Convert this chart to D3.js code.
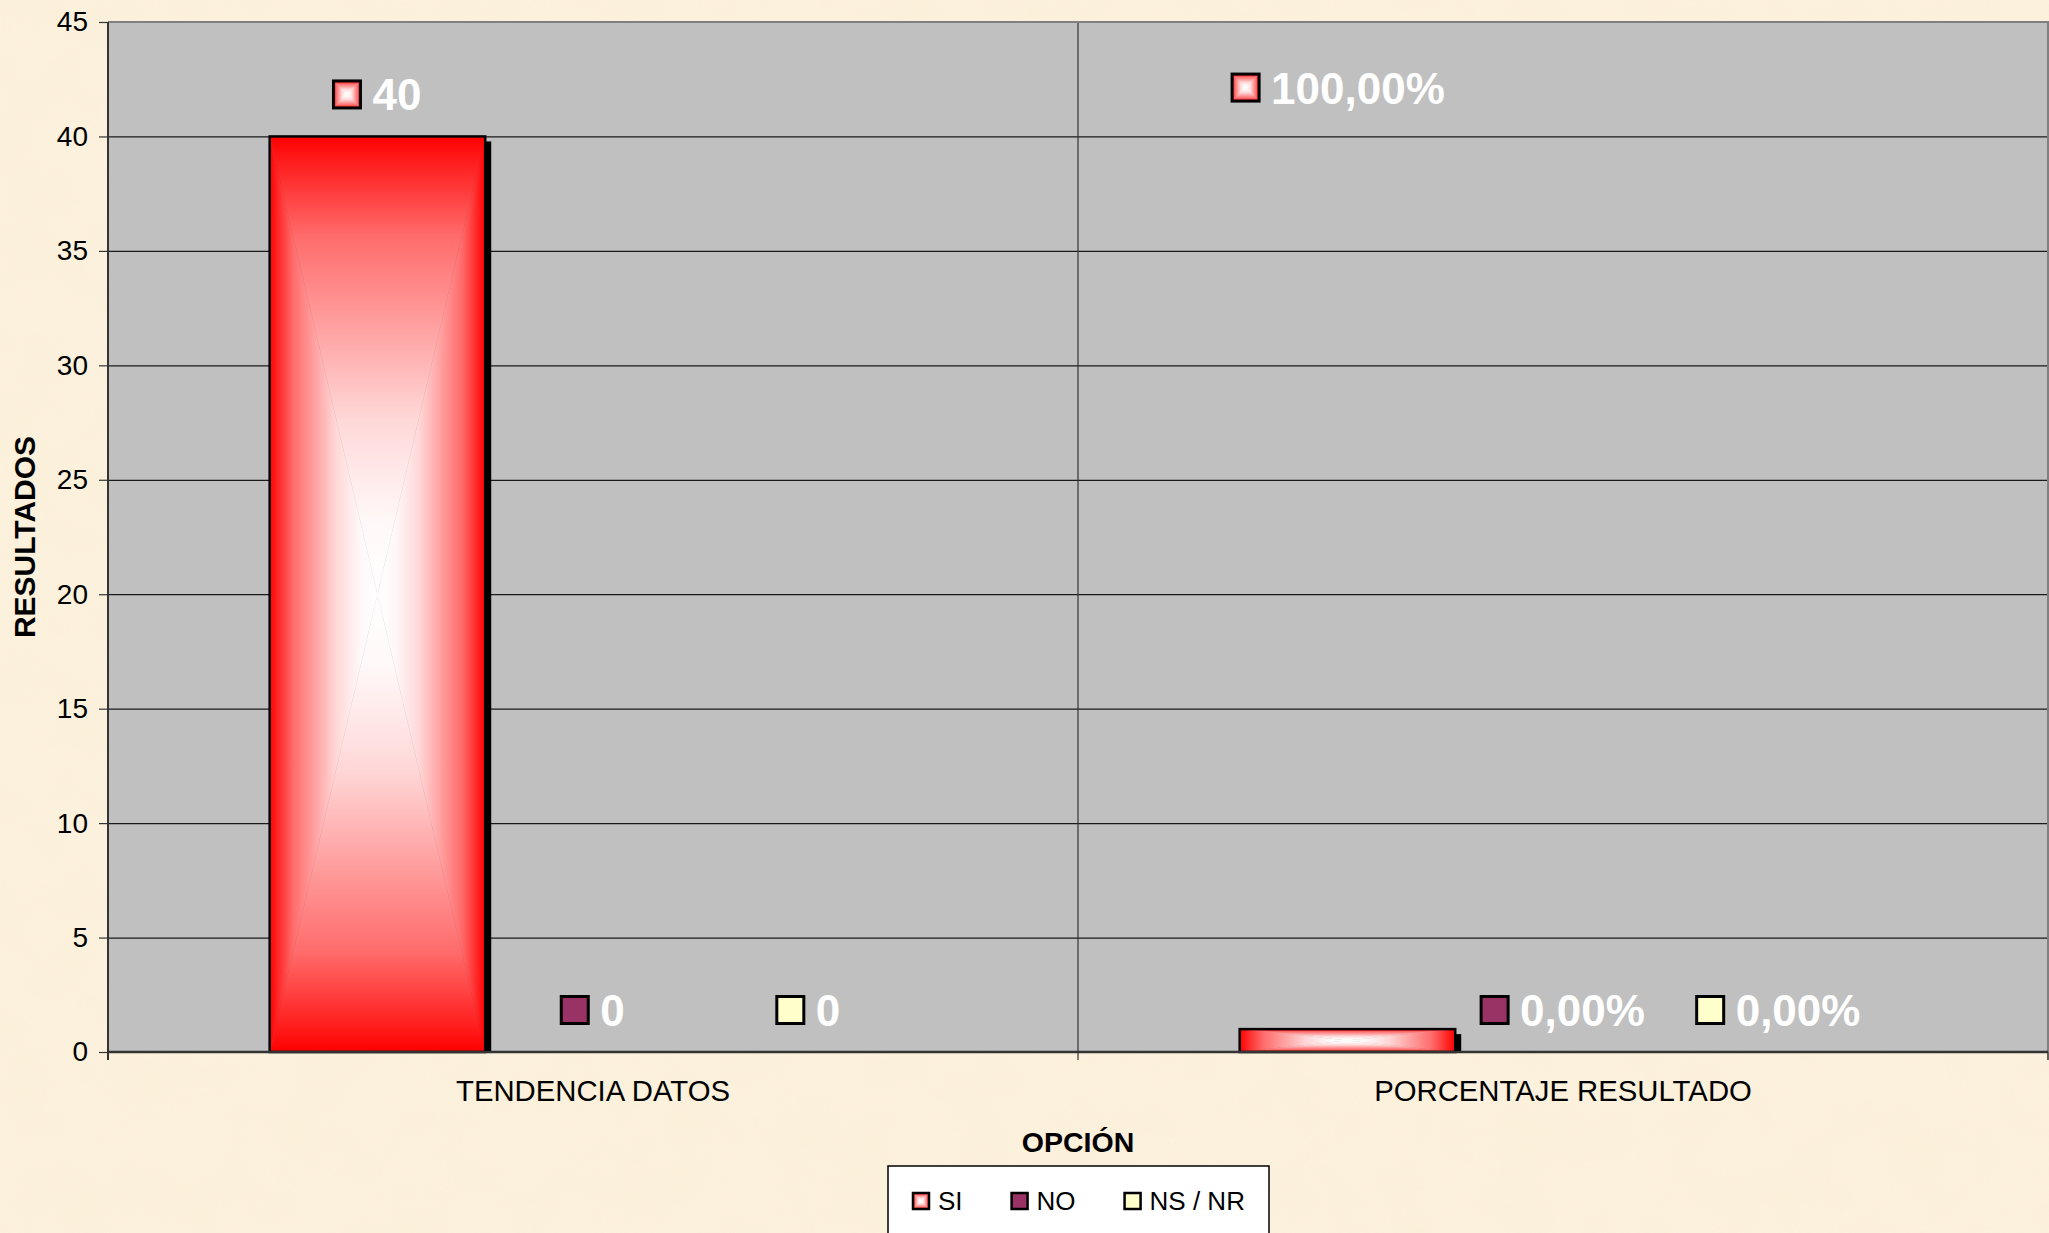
<!DOCTYPE html>
<html>
<head>
<meta charset="utf-8">
<script src="https://cdn.jsdelivr.net/npm/d3@7"></script>
<style>
  body { margin: 0; background: #fcf1dc; }
  svg { display: block; }
  text { font-family: "Liberation Sans", Arial, sans-serif; }
</style>
</head>
<body>
<svg id="chart"></svg>
<script>
// datos del gráfico
const categories = ["TENDENCIA DATOS", "PORCENTAJE RESULTADO"];
const series = ["SI", "NO", "NS / NR"];
const siValues = [40, 1];
const noValues = [0, 0];
const nsValues = [0, 0];
const labelTexts = [["40", "0", "0"], ["100,00%", "0,00%", "0,00%"]];
// la etiqueta del 100% fue arrastrada hacia arriba en el original
const siLabelAnchor = [40, 40.3];
const yTicks = [0, 5, 10, 15, 20, 25, 30, 35, 40, 45];

const width = 2049;
const height = 1233;
const margin = { top: 22, right: 1, bottom: 181, left: 108 };
const seriesColors = { "SI": "grad", "NO": "#993366", "NS / NR": "#ffffcc" };

const svg = d3.select("#chart").attr("width", width).attr("height", height);
const defs = svg.append("defs");

// textura de pergamino
const filt = defs.append("filter").attr("id", "paper").attr("x", 0).attr("y", 0).attr("width", 1).attr("height", 1);
filt.append("feTurbulence").attr("type", "fractalNoise").attr("baseFrequency", 0.018).attr("numOctaves", 4).attr("seed", 7);
filt.append("feColorMatrix").attr("type", "matrix")
    .attr("values", "0 0 0 0 0.93  0 0 0 0 0.84  0 0 0 0 0.66  0.8 0 0 0 -0.3");

svg.append("rect").attr("width", width).attr("height", height).attr("fill", "#fcf1dc");
svg.append("rect").attr("width", width).attr("height", height).attr("filter", "url(#paper)").attr("opacity", 0.7);

// gradientes "desde el centro"
function linGrad(id, x1, y1, x2, y2) {
    const g = defs.append("linearGradient").attr("id", id)
        .attr("x1", x1).attr("y1", y1).attr("x2", x2).attr("y2", y2);
    [[0, "#ff0000"], [0.05, "#ff1a1a"], [0.22, "#ff6c6c"], [0.4, "#ff9c9c"],
     [0.62, "#ffd8d8"], [0.84, "#fff8f8"], [1, "#ffffff"]].forEach(s => {
        g.append("stop").attr("offset", s[0]).attr("stop-color", s[1]);
    });
}
linGrad("gTop", 0, 0, 0, 1);
linGrad("gBottom", 0, 1, 0, 0);
linGrad("gLeft", 0, 0, 1, 0);
linGrad("gRight", 1, 0, 0, 0);

function centerGradientRect(g, x, y, w, h) {
    const cx = x + w / 2, cy = y + h / 2;
    const parts = [
        ["gTop", [[x, y], [x + w, y], [cx, cy]]],
        ["gBottom", [[x, y + h], [x + w, y + h], [cx, cy]]],
        ["gLeft", [[x, y], [x, y + h], [cx, cy]]],
        ["gRight", [[x + w, y], [x + w, y + h], [cx, cy]]]
    ];
    parts.forEach(([id, pts]) => {
        g.append("polygon")
            .attr("points", pts.map(p => p.join(",")).join(" "))
            .attr("fill", `url(#${id})`)
            .attr("stroke", `url(#${id})`)
            .attr("stroke-width", 0.6);
    });
}

const x0 = margin.left, x1 = width - margin.right;
const yTop = margin.top, yBot = height - margin.bottom;

const x = d3.scaleBand().domain(categories).range([x0, x1]).padding(0);
const xs = d3.scaleBand().domain(series).range([0, x.bandwidth()]).paddingInner(0).paddingOuter(0.75);
const y = d3.scaleLinear().domain([0, 45]).range([yBot, yTop]);

// área del gráfico
svg.append("rect").attr("x", x0).attr("y", yTop).attr("width", x1 - x0).attr("height", yBot - yTop)
    .attr("fill", "#c0c0c0");

// líneas de división
svg.append("g")
    .attr("transform", `translate(${x0},0)`)
    .call(d3.axisLeft(y).tickValues(yTicks.slice(1)).tickSize(-(x1 - x0)).tickFormat(""))
    .call(g => g.select(".domain").remove())
    .call(g => g.selectAll("line").attr("stroke", "#1a1a1a").attr("stroke-width", 1.2));

// línea vertical entre categorías
categories.slice(1).forEach(c => {
    svg.append("line").attr("x1", x(c)).attr("x2", x(c)).attr("y1", yTop).attr("y2", yBot + 8)
        .attr("stroke", "#333").attr("stroke-width", 1.2);
});

// borde superior y derecho
svg.append("path").attr("d", `M${x0},${yTop}H${x1}V${yBot}`)
    .attr("fill", "none").attr("stroke", "#808080").attr("stroke-width", 2);

// barras
const data = [];
categories.forEach((c, i) => {
    data.push({ cat: c, s: "SI", v: siValues[i], ci: i, si: 0 });
    data.push({ cat: c, s: "NO", v: noValues[i], ci: i, si: 1 });
    data.push({ cat: c, s: "NS / NR", v: nsValues[i], ci: i, si: 2 });
});

data.filter(d => d.v > 0).forEach(d => {
    const bx = x(d.cat) + xs(d.s);
    const bw = xs.bandwidth();
    const by = y(d.v);
    const bh = y(0) - by;
    // sombra
    svg.append("rect").attr("x", bx + 6).attr("y", by + 5).attr("width", bw).attr("height", bh - 5)
        .attr("fill", "#000");
    const g = svg.append("g");
    if (seriesColors[d.s] === "grad") {
        centerGradientRect(g, bx, by, bw, bh);
    } else {
        g.append("rect").attr("x", bx).attr("y", by).attr("width", bw).attr("height", bh).attr("fill", seriesColors[d.s]);
    }
    svg.append("rect").attr("x", bx).attr("y", by).attr("width", bw).attr("height", bh)
        .attr("fill", "none").attr("stroke", "#000").attr("stroke-width", 2.5);
});

// eje Y
svg.append("g")
    .attr("transform", `translate(${x0},0)`)
    .call(d3.axisLeft(y).tickValues(yTicks).tickSize(9).tickPadding(11))
    .call(g => g.select(".domain").attr("stroke", "#333").attr("stroke-width", 2).attr("d", `M0,${yTop}V${yBot + 8}`))
    .call(g => g.selectAll(".tick line").attr("stroke", "#333").attr("stroke-width", 1.2))
    .call(g => g.selectAll("text").attr("font-size", 28).attr("fill", "#000")
        .attr("font-family", "'Liberation Sans', Arial, sans-serif"));

// eje X
svg.append("line").attr("x1", x0).attr("x2", x1).attr("y1", yBot).attr("y2", yBot)
    .attr("stroke", "#333").attr("stroke-width", 2.5);
[x0, x1].forEach(px => {
    svg.append("line").attr("x1", px).attr("x2", px).attr("y1", yBot).attr("y2", yBot + 8)
        .attr("stroke", "#333").attr("stroke-width", 1.5);
});
svg.selectAll(".cat-label").data(categories).enter().append("text")
    .attr("class", "cat-label")
    .attr("x", d => x(d) + x.bandwidth() / 2)
    .attr("y", yBot + 49)
    .attr("text-anchor", "middle")
    .attr("font-size", 29.3)
    .attr("fill", "#000")
    .text(d => d);

// títulos de ejes
svg.append("text")
    .attr("transform", `translate(35,${(yTop + yBot) / 2}) rotate(-90)`)
    .attr("text-anchor", "middle")
    .attr("font-size", 30).attr("font-weight", "bold")
    .text("RESULTADOS");

svg.append("text")
    .attr("x", (x0 + x1) / 2).attr("y", yBot + 100)
    .attr("text-anchor", "middle")
    .attr("font-size", 28.5).attr("font-weight", "bold")
    .text("OPCIÓN");

// etiquetas de datos con clave de leyenda
function keyBox(g, s, kx, ky, size, sw) {
    if (seriesColors[s] === "grad") {
        centerGradientRect(g, kx, ky, size, size);
    } else {
        g.append("rect").attr("x", kx).attr("y", ky).attr("width", size).attr("height", size).attr("fill", seriesColors[s]);
    }
    g.append("rect").attr("x", kx).attr("y", ky).attr("width", size).attr("height", size)
        .attr("fill", "none").attr("stroke", "#000").attr("stroke-width", sw);
}

data.forEach(d => {
    const cx = x(d.cat) + xs(d.s) + xs.bandwidth() / 2 - (d.ci === 1 && d.s === "SI" ? 9 : 0);
    const anchor = d.s === "SI" ? siLabelAnchor[d.ci] : d.v;
    const cy = y(anchor) - 42;
    const g = svg.append("g");
    const t = g.append("text")
        .attr("y", cy + 16)
        .attr("font-size", 44).attr("font-weight", "bold")
        .attr("fill", "#ffffff")
        .text(labelTexts[d.ci][d.si]);
    const tw = t.node().getComputedTextLength();
    const box = 27, gap = 12;
    const left = cx - (box + gap + tw) / 2;
    t.attr("x", left + box + gap);
    keyBox(g, d.s, left, cy - box / 2, box, 3);
});

// leyenda
const legend = svg.append("g");
legend.append("rect").attr("x", 888).attr("y", 1166).attr("width", 381).attr("height", 120)
    .attr("fill", "#ffffff").attr("stroke", "#000").attr("stroke-width", 1.5);
let lx = 913;
series.forEach(s => {
    keyBox(legend, s, lx, 1193, 16, 2.5);
    const t = legend.append("text").attr("x", lx + 25).attr("y", 1210)
        .attr("font-size", 26).attr("fill", "#000").text(s);
    lx += 25 + t.node().getComputedTextLength() + 49;
});
</script>
</body>
</html>
